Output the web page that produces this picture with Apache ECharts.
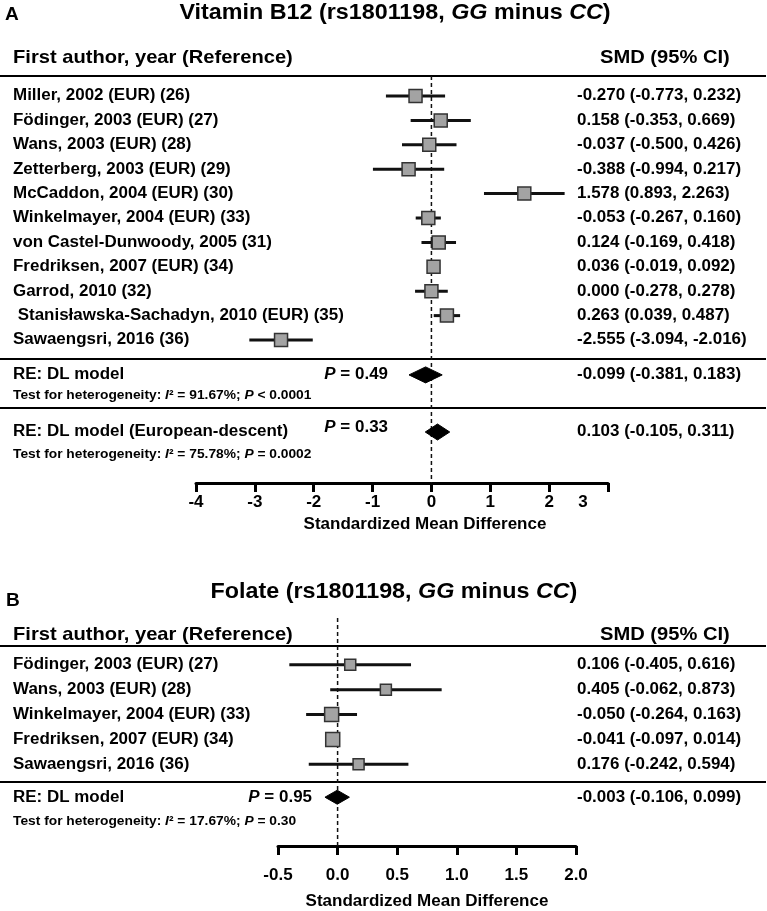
<!DOCTYPE html>
<html><head><meta charset="utf-8">
<script src="https://cdn.jsdelivr.net/npm/echarts@6/dist/echarts.min.js"></script>
<style>html,body{margin:0;padding:0;background:#fff}#c{width:767px;height:911px}</style>
</head><body><div id="c"></div>
<script>
// ---------- Panel A data: Vitamin B12 ----------
const studiesA = ['Miller, 2002 (EUR) (26)','Födinger, 2003 (EUR) (27)','Wans, 2003 (EUR) (28)','Zetterberg, 2003 (EUR) (29)','McCaddon, 2004 (EUR) (30)','Winkelmayer, 2004 (EUR) (33)','von Castel-Dunwoody, 2005 (31)','Fredriksen, 2007 (EUR) (34)','Garrod, 2010 (32)',' Stanisławska-Sachadyn, 2010 (EUR) (35)','Sawaengsri, 2016 (36)'];
const smdA  = [-0.270, 0.158, -0.037, -0.388, 1.578, -0.053, 0.124, 0.036, 0.000, 0.263, -2.555];
const lowA  = [-0.773, -0.353, -0.500, -0.994, 0.893, -0.267, -0.169, -0.019, -0.278, 0.039, -3.094];
const highA = [0.232, 0.669, 0.426, 0.217, 2.263, 0.160, 0.418, 0.092, 0.278, 0.487, -2.016];
const pooledNamesA = ['RE: DL model','RE: DL model (European-descent)'];
const pooledSmdA  = [-0.099, 0.103];
const pooledLowA  = [-0.381, -0.105];
const pooledHighA = [0.183, 0.311];
const pooledPA    = ['0.49','0.33'];
const hetI2A      = ['91.67%','75.78%'];
const hetPA       = ['< 0.0001','= 0.0002'];
const ticksA = [-4,-3,-2,-1,0,1,2,3];

// ---------- Panel B data: Folate ----------
const studiesB = ['Födinger, 2003 (EUR) (27)','Wans, 2003 (EUR) (28)','Winkelmayer, 2004 (EUR) (33)','Fredriksen, 2007 (EUR) (34)','Sawaengsri, 2016 (36)'];
const smdB  = [0.106, 0.405, -0.050, -0.041, 0.176];
const lowB  = [-0.405, -0.062, -0.264, -0.097, -0.242];
const highB = [0.616, 0.873, 0.163, 0.014, 0.594];
const pooledNamesB = ['RE: DL model'];
const pooledSmdB  = [-0.003];
const pooledLowB  = [-0.106];
const pooledHighB = [0.099];
const pooledPB    = ['0.95'];
const hetI2B      = ['17.67%'];
const hetPB       = ['= 0.30'];
const ticksB = [-0.5,0,0.5,1,1.5,2];

// ---------- layout (not data) ----------
const FONT = '"Liberation Sans", Arial, Helvetica, sans-serif';
const SX = 1.06;
const boxA = [13,13,13,13,13,13,13,13,13,13,13];
const boxB = [11,11,14,14,11];
const LA = {yMin:-0.82, yMax:15.86, sumRows:[11.43,13.77], pRows:[11.43,13.6], testRows:[12.27,14.67], pX:388, diamondH:8};
const LB = {yMin:-1.88, yMax:7.28, sumRows:[5.32], pRows:[5.32], testRows:[6.28], pX:312, diamondH:7};

function fmt(v){ return v.toFixed(3); }
function rich(size){
  const base = {fontSize:size, fontWeight:'bold', fontFamily:FONT, color:'#000', fill:'#000'};
  return {b:Object.assign({},base), i:Object.assign({fontStyle:'italic'},base)};
}
function txt(x, y, text, size, align, useRich){
  const st = {text:text, fontSize:size, fontWeight:'bold', fontFamily:FONT, fill:'#000', align:align||'left', verticalAlign:'middle'};
  if (useRich) st.rich = rich(size);
  return {type:'text', x:x, y:y, scaleX:SX, style:st};
}

function studyRender(names, boxes){
  return function(params, api){
    const i = params.dataIndex;
    const est = api.value(0), lo = api.value(1), hi = api.value(2), row = api.value(3);
    const pE = api.coord([est,row]), pL = api.coord([lo,row]), pH = api.coord([hi,row]);
    const y = pE[1], b = boxes[i];
    return {type:'group', children:[
      {type:'line', shape:{x1:pL[0], y1:y, x2:pH[0], y2:y}, style:{stroke:'#111', lineWidth:3}},
      {type:'rect', shape:{x:pE[0]-b/2, y:y-b/2, width:b, height:b}, style:{fill:'#a3a3a3', stroke:'#333', lineWidth:1.5}},
      txt(13, y, names[i], 16, 'left'),
      txt(577, y, fmt(est)+' ('+fmt(lo)+', '+fmt(hi)+')', 16, 'left')
    ]};
  };
}
function summaryRender(names, pv, i2, hp, L){
  return function(params, api){
    const i = params.dataIndex;
    const est = api.value(0), lo = api.value(1), hi = api.value(2), row = api.value(3);
    const pE = api.coord([est,row]), pL = api.coord([lo,row]), pH = api.coord([hi,row]);
    const y = pE[1], h = L.diamondH;
    const yP = api.coord([0, L.pRows[i]])[1];
    const yT = api.coord([0, L.testRows[i]])[1];
    return {type:'group', children:[
      {type:'polygon', shape:{points:[[pL[0],y],[pE[0],y-h],[pH[0],y],[pE[0],y+h]]}, style:{fill:'#000', stroke:'#000', lineWidth:1}},
      txt(13, y, names[i], 16, 'left'),
      txt(L.pX, yP, '{i|P}{b| = '+pv[i]+'}', 16, 'right', true),
      txt(577, y, fmt(est)+' ('+fmt(lo)+', '+fmt(hi)+')', 16, 'left'),
      txt(13, yT, '{b|Test for heterogeneity: }{i|I}{b|² = '+i2[i]+'; }{i|P}{b| '+hp[i]+'}', 13, 'left', true)
    ]};
  };
}
function zeroRender(L){
  return function(params, api){
    const a = api.coord([0, L.yMin]), b = api.coord([0, L.yMax]);
    return {type:'line', shape:{x1:a[0], y1:a[1], x2:b[0], y2:b[1]}, style:{stroke:'#111', lineWidth:1.5, lineDash:[4,3]}};
  };
}

function studyData(s, l, h){ return s.map((v,i)=>[v, l[i], h[i], i]); }
function pooledData(s, l, h, rows){ return s.map((v,i)=>[v, l[i], h[i], rows[i]]); }

function xAxisCfg(grid, min, max, interval, margin, nameGap, namePad, fmtFn, richCfg){
  return {
    gridIndex:grid, type:'value', min:min, max:max, interval:interval,
    name:'Standardized Mean Difference', nameLocation:'middle', nameGap:nameGap,
    nameTextStyle:{fontSize:17, fontWeight:'bold', fontFamily:FONT, color:'#000', padding:namePad},
    axisLine:{show:true, onZero:false, lineStyle:{color:'#000', width:3}},
    axisTick:{show:true, length:9, lineStyle:{color:'#000', width:3}},
    splitLine:{show:false},
    axisLabel:{fontSize:17, fontWeight:'bold', fontFamily:FONT, color:'#000', margin:margin, formatter:fmtFn, rich:richCfg}
  };
}

const chart = echarts.init(document.getElementById('c'), null, {renderer:'canvas', width:767, height:911});

chart.setOption({
  animation:false,
  backgroundColor:'#fff',
  grid:[
    {left:196, width:412, top:76, height:407},
    {left:278, width:298, top:618, height:229}
  ],
  xAxis:[
    xAxisCfg(0, -4, 3, 1, 11, 33, [0,0,0,46], v => v===3 ? '{s|3}' : String(v),
      {s:{padding:[0,50,0,0], fontSize:17, fontWeight:'bold', fontFamily:FONT, color:'#000'}}),
    xAxisCfg(1, -0.5, 2, 0.5, 21, 47, [0,0,0,0], v => v.toFixed(1), null)
  ],
  yAxis:[
    {gridIndex:0, type:'value', min:LA.yMin, max:LA.yMax, inverse:true, show:false},
    {gridIndex:1, type:'value', min:LB.yMin, max:LB.yMax, inverse:true, show:false}
  ],
  graphic:[
    txt(5, 15, 'A', 18, 'left'),
    txt(395, 13, '{b|Vitamin B12 (rs1801198, }{i|GG}{b| minus }{i|CC}{b|)}', 22, 'center', true),
    txt(13, 58, 'First author, year (Reference)', 19, 'left'),
    txt(600, 58, 'SMD (95% CI)', 19, 'left'),
    {type:'line', shape:{x1:0, y1:76, x2:766, y2:76}, style:{stroke:'#000', lineWidth:2}},
    {type:'line', shape:{x1:0, y1:359, x2:766, y2:359}, style:{stroke:'#000', lineWidth:2}},
    {type:'line', shape:{x1:0, y1:408, x2:766, y2:408}, style:{stroke:'#000', lineWidth:2}},
    txt(6, 601, 'B', 18, 'left'),
    txt(394, 592, '{b|Folate (rs1801198, }{i|GG}{b| minus }{i|CC}{b|)}', 22, 'center', true),
    txt(13, 635, 'First author, year (Reference)', 19, 'left'),
    txt(600, 635, 'SMD (95% CI)', 19, 'left'),
    {type:'line', shape:{x1:0, y1:646, x2:766, y2:646}, style:{stroke:'#000', lineWidth:2}},
    {type:'line', shape:{x1:0, y1:782, x2:766, y2:782}, style:{stroke:'#000', lineWidth:2}}
  ],
  series:[
    {type:'custom', name:'zeroA', xAxisIndex:0, yAxisIndex:0, data:[[0,0,0,0]], renderItem:zeroRender(LA), silent:true, z:1},
    {type:'custom', name:'studiesA', xAxisIndex:0, yAxisIndex:0, encode:{x:[0,1,2], y:3},
      data:studyData(smdA, lowA, highA), renderItem:studyRender(studiesA, boxA), silent:true, z:3},
    {type:'custom', name:'pooledA', xAxisIndex:0, yAxisIndex:0, encode:{x:[0,1,2], y:3},
      data:pooledData(pooledSmdA, pooledLowA, pooledHighA, LA.sumRows), renderItem:summaryRender(pooledNamesA, pooledPA, hetI2A, hetPA, LA), silent:true, z:3},
    {type:'custom', name:'zeroB', xAxisIndex:1, yAxisIndex:1, data:[[0,0,0,0]], renderItem:zeroRender(LB), silent:true, z:1},
    {type:'custom', name:'studiesB', xAxisIndex:1, yAxisIndex:1, encode:{x:[0,1,2], y:3},
      data:studyData(smdB, lowB, highB), renderItem:studyRender(studiesB, boxB), silent:true, z:3},
    {type:'custom', name:'pooledB', xAxisIndex:1, yAxisIndex:1, encode:{x:[0,1,2], y:3},
      data:pooledData(pooledSmdB, pooledLowB, pooledHighB, LB.sumRows), renderItem:summaryRender(pooledNamesB, pooledPB, hetI2B, hetPB, LB), silent:true, z:3}
  ]
});
</script></body></html>
